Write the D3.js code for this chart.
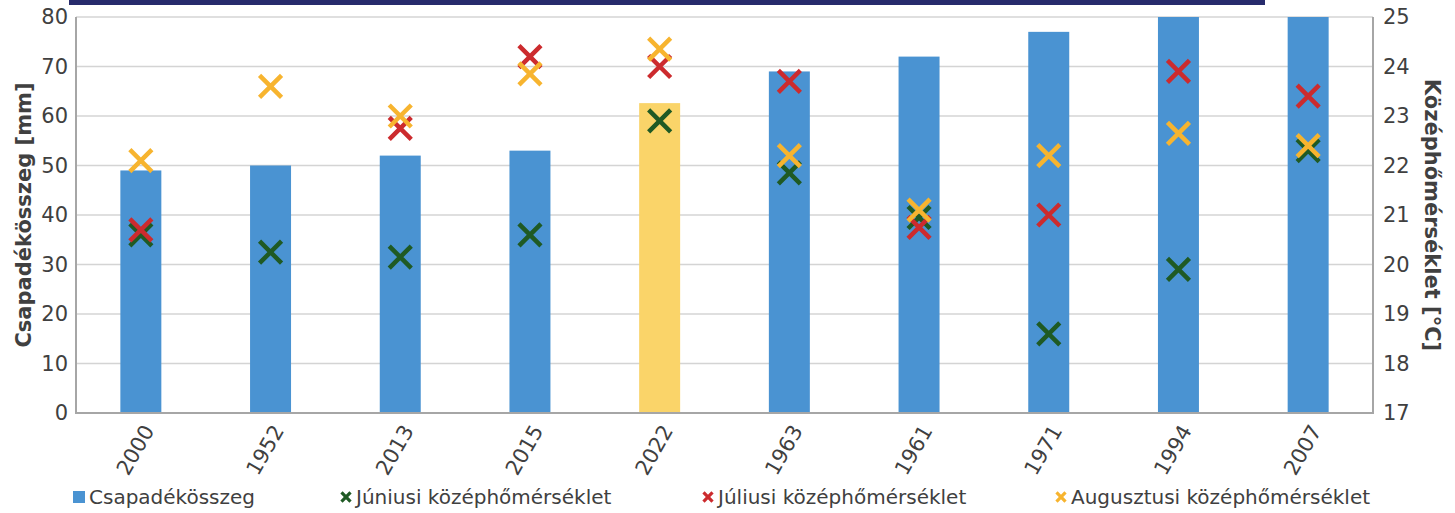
<!DOCTYPE html>
<html>
<head>
<meta charset="utf-8">
<script src="https://cdn.jsdelivr.net/npm/d3@7"></script>
<style>
  html, body { margin: 0; padding: 0; background: #fff; }
  svg { display: block; }
  text { font-family: "DejaVu Sans", Verdana, sans-serif; }
</style>
</head>
<body>
<svg id="chart" width="1455" height="513"></svg>
<script>
// Years (in display order)
const years = ["2000", "1952", "2013", "2015", "2022", "1963", "1961", "1971", "1994", "2007"];
// Precipitation totals [mm]
const precipitation = [49, 50, 52, 53, 62.6, 69, 72, 77, 86, 90];
// Highlighted year
const highlightYear = "2022";
// Mean temperatures [°C]
const juneTemp   = [20.6, 20.25, 20.15, 20.6, 22.9, 21.85, 20.95, 18.6, 19.9, 22.3];
const julyTemp   = [20.7, null, 22.75, 24.2, 24.0, 23.7, 20.75, 21.0, 23.9, 23.4];
const augustTemp = [22.1, 23.6, 23.0, 23.85, 24.35, 22.2, 21.1, 22.2, 22.65, 22.4];
// Axis ticks
const leftTicks  = [0, 10, 20, 30, 40, 50, 60, 70, 80];
const rightTicks = [17, 18, 19, 20, 21, 22, 23, 24, 25];

const seriesNames = ["Csapadékösszeg", "Júniusi középhőmérséklet", "Júliusi középhőmérséklet", "Augusztusi középhőmérséklet"];
const colors = {
  bar: "#4a93d2",
  barHighlight: "#fad469",
  june: "#1f5a24",
  july: "#cc2b2e",
  august: "#f7b42f"
};

const svg = d3.select("#chart");
const plot = { left: 76, right: 1373, top: 17, bottom: 413 };

// Header band
svg.append("rect").attr("x", 69).attr("y", 0).attr("width", 1196).attr("height", 5).attr("fill", "#272b6c");

const x = d3.scaleBand().domain(years).range([plot.left, plot.right]).paddingInner(0.684).paddingOuter(0.342);
const yL = d3.scaleLinear().domain([0, 80]).range([plot.bottom, plot.top]);
const yR = d3.scaleLinear().domain([17, 25]).range([plot.bottom, plot.top]);

// Gridlines
svg.append("g").selectAll("line").data(leftTicks.slice(1)).join("line")
  .attr("x1", plot.left).attr("x2", plot.right)
  .attr("y1", d => yL(d)).attr("y2", d => yL(d))
  .attr("stroke", "#d4d4d4").attr("stroke-width", 1.5);

// Clip to plot area
svg.append("clipPath").attr("id", "plotClip").append("rect")
  .attr("x", plot.left).attr("y", plot.top).attr("width", plot.right - plot.left).attr("height", plot.bottom - plot.top);

// Bars
svg.append("g").attr("clip-path", "url(#plotClip)").selectAll("rect")
  .data(years.map((y, i) => ({ year: y, v: precipitation[i] }))).join("rect")
  .attr("x", d => x(d.year)).attr("width", x.bandwidth())
  .attr("y", d => yL(d.v)).attr("height", d => yL(0) - yL(d.v))
  .attr("fill", d => d.year === highlightYear ? colors.barHighlight : colors.bar);

// Axis lines
svg.append("line").attr("x1", plot.left).attr("x2", plot.left).attr("y1", plot.top).attr("y2", plot.bottom)
  .attr("stroke", "#a6a6a6").attr("stroke-width", 2);
svg.append("line").attr("x1", plot.right).attr("x2", plot.right).attr("y1", plot.top).attr("y2", plot.bottom)
  .attr("stroke", "#a6a6a6").attr("stroke-width", 2);
svg.append("line").attr("x1", plot.left - 1).attr("x2", plot.right + 1).attr("y1", plot.bottom).attr("y2", plot.bottom)
  .attr("stroke", "#a6a6a6").attr("stroke-width", 2);

// Left axis
const leftAxis = svg.append("g").attr("transform", `translate(${plot.left},0)`)
  .call(d3.axisLeft(yL).tickValues(leftTicks).tickSize(0).tickPadding(8));
leftAxis.select(".domain").remove();
leftAxis.selectAll("text").attr("font-size", 21).attr("fill", "#404040")
  .attr("font-family", "DejaVu Sans, Verdana, sans-serif");

// Right axis
const rightAxis = svg.append("g").attr("transform", `translate(${plot.right},0)`)
  .call(d3.axisRight(yR).tickValues(rightTicks).tickSize(0).tickPadding(10));
rightAxis.select(".domain").remove();
rightAxis.selectAll("text").attr("font-size", 21).attr("fill", "#404040")
  .attr("font-family", "DejaVu Sans, Verdana, sans-serif");

// Bottom axis (rotated year labels)
const bottomAxis = svg.append("g").attr("transform", `translate(0,${plot.bottom})`)
  .call(d3.axisBottom(x).tickSize(0).tickPadding(0));
bottomAxis.select(".domain").remove();
bottomAxis.selectAll("text")
  .attr("font-size", 21).attr("fill", "#404040")
  .attr("font-family", "DejaVu Sans, Verdana, sans-serif")
  .attr("text-anchor", "end").attr("dy", null).attr("y", 0)
  .attr("transform", "translate(8,14) rotate(-60)")
  .attr("dominant-baseline", "central");

// Axis titles
svg.append("text").attr("transform", `translate(24,${(plot.top + plot.bottom) / 2}) rotate(-90)`)
  .attr("text-anchor", "middle").attr("dominant-baseline", "central")
  .attr("font-size", 21).attr("font-weight", "bold").attr("fill", "#404040")
  .text("Csapadékösszeg [mm]");
svg.append("text").attr("transform", `translate(1432,${(plot.top + plot.bottom) / 2}) rotate(90)`)
  .attr("text-anchor", "middle").attr("dominant-baseline", "central")
  .attr("font-size", 21).attr("font-weight", "bold").attr("fill", "#404040")
  .text("Középhőmérséklet [°C]");

// Temperature markers
const cross = d3.symbol().type(d3.symbolX).size(318);
const tempSeries = [
  { key: "june", values: juneTemp },
  { key: "july", values: julyTemp },
  { key: "august", values: augustTemp }
];
const markerG = svg.append("g");
tempSeries.forEach(s => {
  markerG.append("g").selectAll("path")
    .data(years.map((y, i) => ({ year: y, v: s.values[i] })).filter(d => d.v != null))
    .join("path")
    .attr("d", cross)
    .attr("transform", d => `translate(${x(d.year) + x.bandwidth() / 2},${yR(d.v)})`)
    .attr("fill", "none").attr("stroke", colors[s.key]).attr("stroke-width", 4.5)
    .attr("stroke-linecap", "butt");
});

// Legend
const legend = svg.append("g");
const legendItems = [
  { name: seriesNames[0], type: "bar", color: colors.bar, x: 73 },
  { name: seriesNames[1], type: "x", color: colors.june, x: 340 },
  { name: seriesNames[2], type: "x", color: colors.july, x: 702 },
  { name: seriesNames[3], type: "x", color: colors.august, x: 1055 }
];
const legendY = 497;
const smallCross = d3.symbol().type(d3.symbolX).size(55);
legendItems.forEach(it => {
  if (it.type === "bar") {
    legend.append("rect").attr("x", it.x).attr("y", legendY - 6).attr("width", 12).attr("height", 12).attr("fill", it.color);
  } else {
    legend.append("path").attr("d", smallCross).attr("transform", `translate(${it.x + 6},${legendY})`)
      .attr("fill", "none").attr("stroke", it.color).attr("stroke-width", 3.2);
  }
  legend.append("text").attr("x", it.x + 16).attr("y", legendY).attr("dominant-baseline", "central")
    .attr("font-size", 20).attr("fill", "#404040").text(it.name);
});
</script>
</body>
</html>
